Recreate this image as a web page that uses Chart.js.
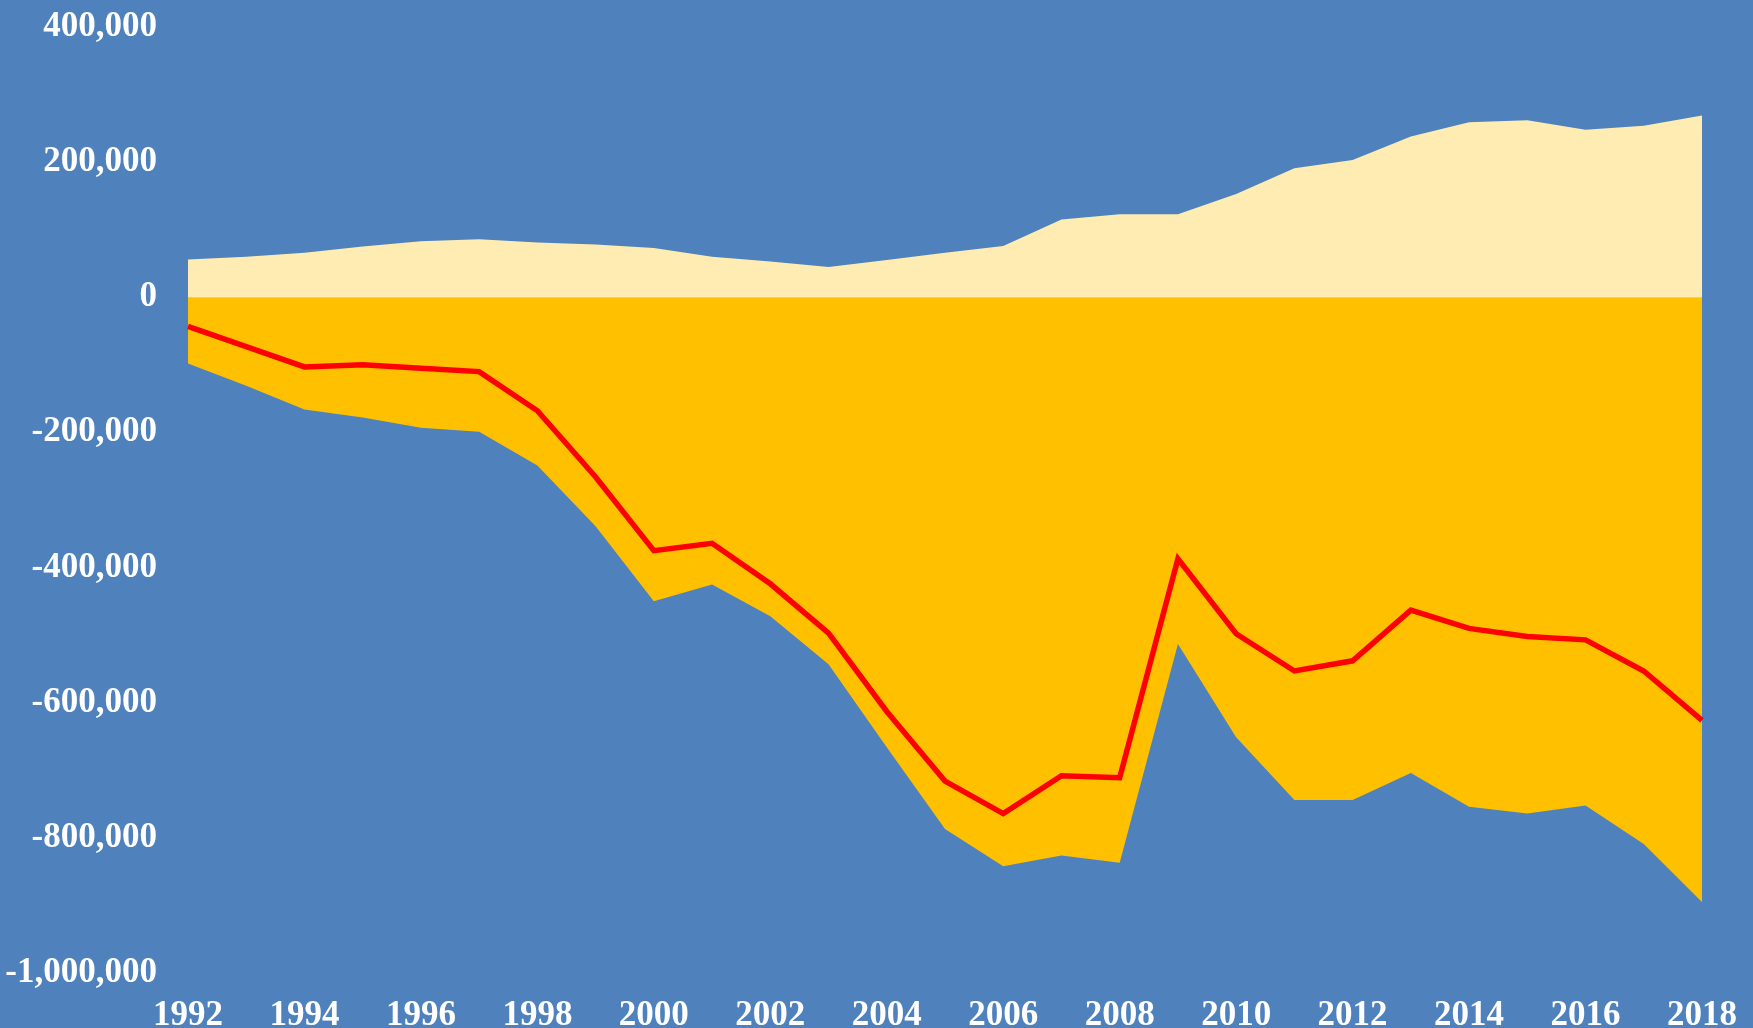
<!DOCTYPE html>
<html>
<head>
<meta charset="utf-8">
<script src="https://cdn.jsdelivr.net/npm/chart.js@4/dist/chart.umd.min.js"></script>
<style>
  html, body { margin: 0; padding: 0; background: #4F81BD; }
  #wrap { width: 1753px; height: 1028px; position: relative; }
</style>
</head>
<body>
<div id="wrap"><canvas id="c"></canvas></div>
<script>
const years = [1992,1993,1994,1995,1996,1997,1998,1999,2000,2001,2002,2003,2004,2005,2006,2007,2008,2009,2010,2011,2012,2013,2014,2015,2016,2017,2018];
const services = [56000,60000,66000,75000,83000,86000,81000,78000,73000,60000,53000,45000,55000,66000,76000,115000,123000,123000,153000,191000,203000,238000,259000,262000,248000,254000,269000];
const goods = [-98000,-131000,-166000,-178000,-193000,-199000,-249000,-339000,-450000,-425000,-472000,-543000,-666000,-787000,-842000,-826000,-837000,-513000,-651000,-744000,-744000,-704000,-754000,-764000,-752000,-809000,-895000];
const total = [-43000,-73000,-103000,-100000,-105000,-110000,-168000,-266000,-375000,-364000,-424000,-497000,-613000,-716000,-764000,-708000,-711000,-387000,-498000,-553000,-538000,-463000,-490000,-502000,-507000,-553000,-626000];
const yTicks = [400000,200000,0,-200000,-400000,-600000,-800000,-1000000];

const fontFam = '"Liberation Serif", "DejaVu Serif", serif';

new Chart(document.getElementById('c'), {
  type: 'line',
  data: {
    labels: years.map(String),
    datasets: [
      { label: 'Total', data: total, borderColor: '#FF0000', borderWidth: 5.5, fill: false, pointRadius: 0, tension: 0, order: 0 },
      { label: 'Services', data: services, borderWidth: 0, borderColor: 'rgba(0,0,0,0)', backgroundColor: '#FFECB3', fill: 'origin', pointRadius: 0, tension: 0, order: 1 },
      { label: 'Goods', data: goods, borderWidth: 0, borderColor: 'rgba(0,0,0,0)', backgroundColor: '#FFC000', fill: 'origin', pointRadius: 0, tension: 0, order: 2 }
    ]
  },
  options: {
    responsive: true,
    maintainAspectRatio: false,
    animation: false,
    layout: { padding: { top: 27, right: 51, bottom: -8, left: 0 } },
    plugins: { legend: { display: false }, tooltip: { enabled: false } },
    scales: {
      x: {
        type: 'category',
        offset: false,
        border: { display: false },
        grid: { display: false, drawTicks: false },
        afterFit: function(s) { s.height = 63; s.paddingLeft = 0; s.paddingRight = 0; },
        ticks: {
          autoSkip: false, maxRotation: 0, padding: 22,
          color: '#FFFFFF',
          font: { family: fontFam, size: 35, weight: 'bold', lineHeight: 1.2 },
          callback: function(v, i) { return (years[i] % 2 === 0) ? String(years[i]) : ''; }
        }
      },
      y: {
        min: -1000000, max: 400000,
        z: 1,
        border: { display: false },
        afterBuildTicks: function(s) { s.ticks = yTicks.map(v => ({ value: v })); },
        afterFit: function(s) { s.width = 188; s.paddingTop = 0; s.paddingBottom = 0; },
        grid: {
          drawTicks: false,
          lineWidth: 2,
          color: function(ctx) { return (ctx.tick && ctx.tick.value === 0) ? '#D9D9D9' : 'rgba(0,0,0,0)'; }
        },
        ticks: {
          padding: 31,
          color: '#FFFFFF',
          font: { family: fontFam, size: 35, weight: 'bold', lineHeight: 1.2 },
          callback: function(v) { return Number(v).toLocaleString('en-US'); }
        }
      }
    }
  }
});
</script>
</body>
</html>
